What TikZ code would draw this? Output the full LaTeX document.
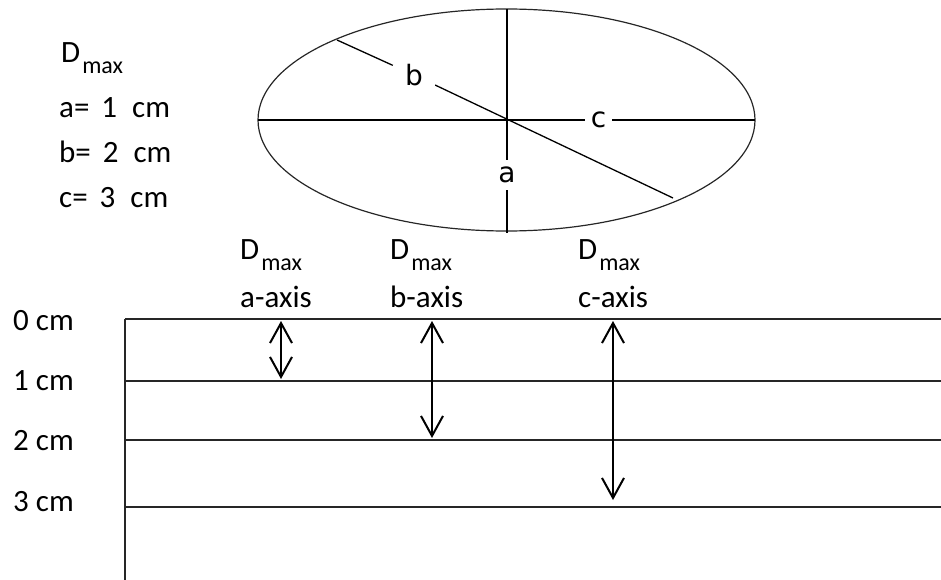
\documentclass[tikz,border=0pt]{standalone}
\usepackage{fontspec}
\setmainfont{Carlito}
\newfontfamily\lblfont{DejaVu Sans}
\usetikzlibrary{arrows.meta}
\newcommand{\Dmx}{D\kern2pt\raisebox{-11pt}{\fontsize{24}{26}\selectfont max}}
\newcommand{\wspa}{\hspace{12pt}}
\newcommand{\wspb}{\hspace{15pt}}
\begin{document}
\begin{tikzpicture}[x=1pt,y=-1pt,
  txt/.style={font=\fontsize{31}{37}\selectfont, anchor=base west, inner sep=0pt},
  lbl/.style={font=\lblfont\fontsize{28}{32}\selectfont, inner sep=0pt},
  axisline/.style={line width=1.5pt, draw=black},
  layer/.style={line width=1.6pt, draw=black!85},
  dbl/.style={line width=2pt, {Straight Barb[length=20pt,width=22pt]}-{Straight Barb[length=20pt,width=22pt]}}
]
\useasboundingbox (0,0) rectangle (941,580);

% ---- ellipse and its axes
\coordinate (O) at (506.5,120);
\draw[line width=1.2pt, draw=black!85] (O) ellipse [x radius=248.5pt, y radius=111pt];
\coordinate (aT) at (507,9);
\coordinate (aB) at (507,233);
\coordinate (cL) at (258,120);
\coordinate (cR) at (755,120);
\coordinate (bL) at (337,40);
\coordinate (bR) at (673,198);
\node[lbl, minimum width=18pt, minimum height=30pt] (la) at (507,175) {a};
\node[lbl, minimum width=27pt, minimum height=18pt] (lc) at (598.5,120) {c};
\node[lbl, minimum width=42pt, minimum height=28pt] (lb) at (414,75) {b};
\draw[axisline] (aT) -- (la) -- (aB);
\draw[axisline] (cL) -- (lc) -- (cR);
\draw[axisline, line width=1.3pt] (bL) -- (lb) -- (bR);

% ---- legend
\node[txt] (dm) at (61,63) {\Dmx};
\node[txt] (va) at (59,118) {a=\wspa1\wspb cm};
\node[txt] (vb) at (59,163) {b=\wspa2\wspb cm};
\node[txt] (vc) at (59,207) {c=\wspa3\wspb cm};

% ---- headings
\node[txt] (hA) at (240,259) {\Dmx};
\node[txt] (hAx) at (240,307) {a-axis};
\node[txt] (hB) at (390,259) {\Dmx};
\node[txt] (hBx) at (390,307) {b-axis};
\node[txt] (hC) at (578,259) {\Dmx};
\node[txt] (hCx) at (578,307) {c-axis};

% ---- depth scale
\node[txt] (s0) at (13,330) {0 cm};
\node[txt] (s1) at (13,390) {1 cm};
\node[txt] (s2) at (13,450) {2 cm};
\node[txt] (s3) at (13,511) {3 cm};

\coordinate (L0) at (125,319); \coordinate (R0) at (941,319);
\coordinate (L1) at (125,381); \coordinate (R1) at (941,381);
\coordinate (L2) at (125,440); \coordinate (R2) at (941,440);
\coordinate (L3) at (125,507); \coordinate (R3) at (941,507);
\coordinate (Lb) at (125,580);
\draw[layer] (L0) -- (R0);
\draw[layer] (L1) -- (R1);
\draw[layer] (L2) -- (R2);
\draw[layer] (L3) -- (R3);
\draw[layer] (L0) -- (Lb);

% ---- depth arrows
\coordinate (aa1) at (281,321); \coordinate (aa2) at (281,379);
\coordinate (ba1) at (432,321); \coordinate (ba2) at (432,438);
\coordinate (ca1) at (613,321); \coordinate (ca2) at (613,500);
\draw[dbl] (aa1) -- (aa2);
\draw[dbl] (ba1) -- (ba2);
\draw[dbl] (ca1) -- (ca2);
\end{tikzpicture}
\end{document}
